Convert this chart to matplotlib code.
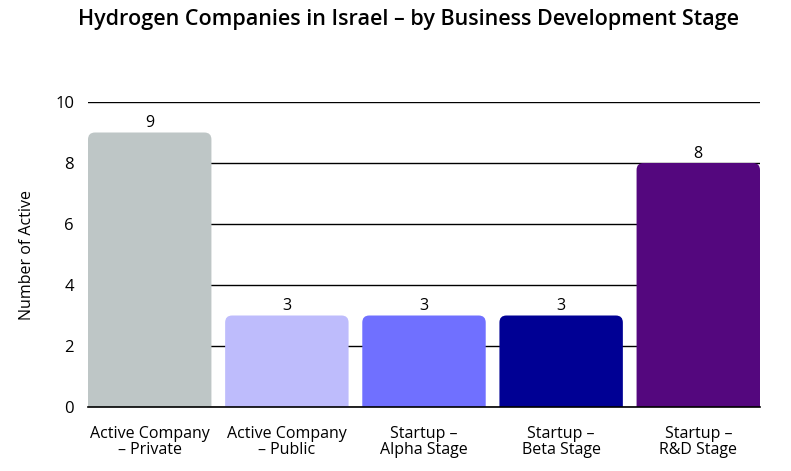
import matplotlib
matplotlib.use("Agg")
import matplotlib.pyplot as plt
from matplotlib.patches import FancyBboxPatch

categories = ["Active Company\n– Private", "Active Company\n– Public", "Startup –\nAlpha Stage",
              "Startup –\nBeta Stage", "Startup –\nR&D Stage"]
values = [9, 3, 3, 3, 8]
colors = ["#BEC6C6", "#BEBCFC", "#7070FF", "#000094", "#54077E"]
yticks = [0, 2, 4, 6, 8, 10]
title = "Hydrogen Companies in Israel – by Business Development Stage"
ylabel = "Number of Active"

plt.rcParams['font.family'] = ['Open Sans', 'DejaVu Sans']

W, H = 791, 471
fig = plt.figure(figsize=(W / 100, H / 100), dpi=100)
ax = fig.add_axes([88 / W, 1 - 407 / H, (760 - 88) / W, (407 - 102) / H])

x = list(range(len(categories)))
bars = ax.bar(x, values, width=0.9, color=colors, zorder=3)
ax.set_xlim(-0.45, len(categories) - 1 + 0.45)
ax.set_ylim(0, 10)

# replace rectangles with top-rounded boxes
fig.canvas.draw()
bbox = ax.get_window_extent()
px_per_x = bbox.width / (ax.get_xlim()[1] - ax.get_xlim()[0])
px_per_y = bbox.height / (ax.get_ylim()[1] - ax.get_ylim()[0])
aspect = px_per_x / px_per_y
r_px = 7
for rect, c in zip(bars.patches, colors):
    x0, w, h = rect.get_x(), rect.get_width(), rect.get_height()
    rect.remove()
    p = FancyBboxPatch((x0, -1), w, h + 1,
                       boxstyle=f"round,pad=0,rounding_size={r_px / px_per_x}",
                       mutation_aspect=aspect, facecolor=c, edgecolor="none", zorder=3)
    ax.add_patch(p)

for xi, v in zip(x, values):
    ax.annotate(str(v), (xi, v), xytext=(0, 1), textcoords="offset points",
                ha="center", va="bottom", fontsize=11.5, color="black")

ax.set_yticks(yticks)
ax.set_yticklabels([str(t) for t in yticks], fontsize=12)
ax.set_xticks(x)
ax.set_xticklabels(categories, fontsize=11.5, linespacing=1.0)
ax.tick_params(axis="y", length=0, pad=10)
ax.tick_params(axis="x", length=0, pad=14)
ax.yaxis.grid(True, color="black", linewidth=1.0, zorder=0)
ax.set_axisbelow(True)
for s in ["top", "right", "left"]:
    ax.spines[s].set_visible(False)
ax.spines["bottom"].set_color("black")
ax.spines["bottom"].set_linewidth(1.2)
ax.spines["bottom"].set_zorder(4)

fig.text(27 / W, 1 - 255 / H, ylabel, rotation=90, ha="center", va="center", fontsize=11.5)
fig.text(408 / W, 1 - 20 / H, title, ha="center", va="center", fontsize=15.5, fontweight="semibold")

fig.savefig("out.png", dpi=100)
